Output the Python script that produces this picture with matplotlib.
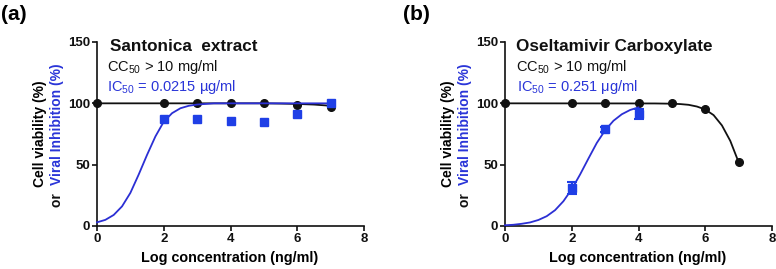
import numpy as np
import matplotlib
matplotlib.use("Agg")
import matplotlib.pyplot as plt

plt.rcParams['font.family'] = ['Liberation Sans', 'DejaVu Sans']
plt.rcParams['mathtext.fontset'] = 'custom'
plt.rcParams['mathtext.rm'] = 'Liberation Sans'
plt.rcParams['mathtext.it'] = 'Liberation Sans:italic'
plt.rcParams['mathtext.bf'] = 'Liberation Sans:bold'

BLACK = '#111111'
BLUE_TXT = '#2a35d8'
BLUE_PT = '#1f3fe6'
BLUE_LN = '#2b2fd4'

## (a) Santonica extract
a_dose = [0, 2, 3, 4, 5, 6, 7]
a_viab = [100, 100, 100, 100, 100, 99, 97]
a_inh_dose = [2, 3, 4, 5, 6, 7]
a_inh = [87, 87, 86, 85, 91, 100]
# fitted curves
a_viab_fit_x = [0, 5, 5.5, 6, 6.5, 7]
a_viab_fit_y = [100, 100, 99.8, 99.5, 99, 98]
a_inh_fit_x = [0, 0.25, 0.5, 0.75, 1.0, 1.25, 1.5, 1.75, 2.0, 2.25, 2.5, 2.75, 3.0, 3.5, 4.0, 7.0]
a_inh_fit_y = [3, 5, 9, 16, 27, 42, 58, 73, 85, 92, 96, 98, 99, 100, 100, 100]

## (b) Oseltamivir Carboxylate
b_dose = [0, 2, 3, 4, 5, 6, 7]
b_viab = [100, 100, 100, 100, 100, 95, 52]
b_inh_dose = [2, 3, 4]
b_inh = [31, 79, 91]
b_inh_err = [5, 2, 4]
b_viab_fit_x = [0, 4.5, 5.0, 5.25, 5.5, 5.75, 6.0, 6.25, 6.5, 6.75, 7.0]
b_viab_fit_y = [100, 99.9, 99.7, 99.4, 98.8, 97.4, 95, 90.4, 82, 69.4, 52]
b_inh_fit_x = [0, 0.25, 0.5, 0.75, 1.0, 1.25, 1.5, 1.75, 2.0, 2.25, 2.5, 2.75, 3.0, 3.25, 3.5, 3.75, 4.0]
b_inh_fit_y = [0.6, 1.0, 1.8, 2.9, 4.9, 8.0, 12.9, 20.2, 30, 42, 55, 67.7, 78, 85.8, 91.1, 94.6, 96.7]

W, H = 776, 269
fig = plt.figure(figsize=(W / 100, H / 100), dpi=100)


def style_axes(ax):
    for s in ['top', 'right']:
        ax.spines[s].set_visible(False)
    for s in ['left', 'bottom']:
        ax.spines[s].set_linewidth(1.2)
        ax.spines[s].set_color(BLACK)
    ax.set_xlim(0, 8)
    ax.set_ylim(0, 150)
    ax.set_xticks([0, 2, 4, 6, 8])
    ax.set_yticks([0, 50, 100, 150])
    ax.tick_params(direction='out', length=3.5, width=1.2, labelsize=9.5, pad=1.5, colors=BLACK)
    for lab in ax.get_xticklabels() + ax.get_yticklabels():
        lab.set_fontweight('bold')


def panel(left_px, viab_x, viab_y, vfx, vfy, inh_x, inh_y, ifx, ify, err=None):
    ax = fig.add_axes([left_px / W, 1 - 226 / H, 267 / W, 184 / H])
    style_axes(ax)
    ax.plot(vfx, vfy, color=BLACK, lw=1.3, clip_on=False, zorder=3)
    ax.plot(viab_x, viab_y, 'o', color=BLACK, ms=5.5, clip_on=False, zorder=4)
    ax.plot(ifx, ify, color=BLUE_LN, lw=1.3, clip_on=False, zorder=5)
    if err is not None:
        ax.errorbar(inh_x, inh_y, yerr=err, fmt='s', color=BLUE_PT, ms=5.5,
                    elinewidth=1.5, capsize=3.5, capthick=1.5, clip_on=False, zorder=6)
    else:
        ax.plot(inh_x, inh_y, 's', color=BLUE_PT, ms=5.5, clip_on=False, zorder=6)
    return ax


axa = panel(97, a_dose, a_viab, a_viab_fit_x, a_viab_fit_y,
            a_inh_dose, a_inh, a_inh_fit_x, a_inh_fit_y)
axb = panel(505, b_dose, b_viab, b_viab_fit_x, b_viab_fit_y,
            b_inh_dose, b_inh, b_inh_fit_x, b_inh_fit_y, err=b_inh_err)

axa.text(0.39, 143, 'Santonica  extract', fontsize=12.3, fontweight='bold', va='baseline', color=BLACK)
axa.text(0.29, 126, r'CC$_{50}$ > 10 mg/ml', fontsize=10.5, va='baseline', color=BLACK)
axa.text(0.29, 110, r'IC$_{50}$ = 0.0215 µg/ml', fontsize=10.5, va='baseline', color=BLUE_TXT)

axb.text(0.32, 143, 'Oseltamivir Carboxylate', fontsize=12.3, fontweight='bold', va='baseline', color=BLACK)
axb.text(0.34, 126, r'CC$_{50}$ > 10 mg/ml', fontsize=10.5, va='baseline', color=BLACK)
axb.text(0.37, 110, r'IC$_{50}$ = 0.251 μg/ml', fontsize=10.5, va='baseline', color=BLUE_TXT)

fig.text(1 / W, 1 - 20 / H, '(a)', fontsize=15, fontweight='bold', va='baseline')
fig.text(403 / W, 1 - 20 / H, '(b)', fontsize=15, fontweight='bold', va='baseline')

# axis labels
renderer = fig.canvas.get_renderer()
for left_px in [97, 505]:
    cx = left_px + 133
    fig.text(cx / W, 1 - 262 / H, 'Log concentration (ng/ml)', fontsize=10.4,
             fontweight='bold', ha='center', va='baseline')
    # column 1
    fig.text((left_px - 57) / W, 1 - 134 / H, 'Cell viability (%)', fontsize=10,
             fontweight='bold', rotation=90, ha='center', va='center')
    # column 2: "or" in black, rest in blue
    t1 = fig.text(0, 0, 'or  ', fontsize=10, fontweight='bold')
    t2 = fig.text(0, 0, 'Viral Inhibition (%)', fontsize=10, fontweight='bold')
    w1 = t1.get_window_extent(renderer).width
    w2 = t2.get_window_extent(renderer).width
    t1.remove()
    t2.remove()
    y0 = 135 + (w1 + w2) / 2  # pixel from top where text starts
    bx = left_px - 36
    fig.text(bx / W, 1 - y0 / H, 'or  ', fontsize=10, fontweight='bold', color=BLACK,
             rotation=90, rotation_mode='anchor', ha='left', va='baseline')
    fig.text(bx / W, 1 - (y0 - w1) / H, 'Viral Inhibition (%)', fontsize=10, fontweight='bold',
             color=BLUE_TXT, rotation=90, rotation_mode='anchor', ha='left', va='baseline')

fig.savefig('out.png', dpi=100)
